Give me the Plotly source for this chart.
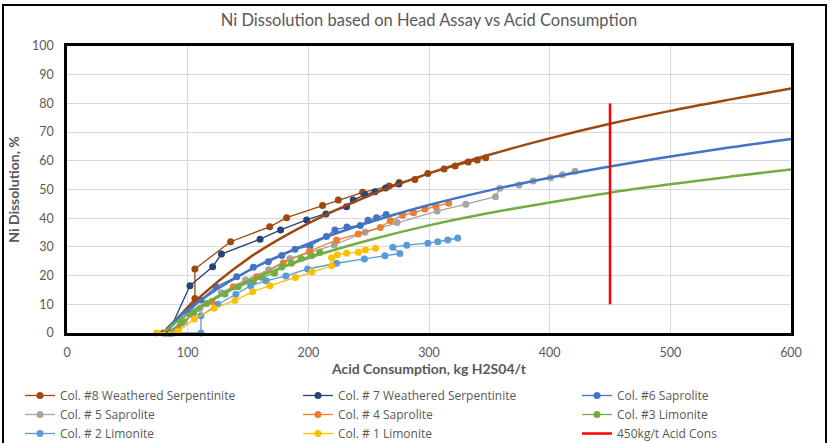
import plotly.graph_objects as go

# Column leach results: acid consumption (kg H2SO4/t) vs Ni dissolution (%)
col8_x = [80, 106, 106, 135.6, 168, 182, 211.8, 224.8, 245, 267, 275.3, 288.3, 299, 312.5, 321.7, 332.5, 340, 347]
col8_y = [0, 12, 22.3, 31.8, 37.0, 40.2, 44.4, 46.3, 49.0, 51.2, 52.4, 53.5, 55.6, 57.1, 58.2, 59.6, 60.3, 61.1]

col7_x = [84, 101.9, 120.7, 128, 160, 177, 198.6, 214.6, 231.7, 237.2, 246.9, 255.2, 264, 275]
col7_y = [0, 16.5, 23.1, 27.5, 32.7, 35.9, 39.4, 41.5, 44.0, 46.3, 48.2, 49.2, 50.5, 51.9]

col6_x = [86, 100, 111, 123.4, 140.6, 154.4, 166.8, 178, 189, 201.3, 215, 222, 232, 243, 249.5, 256.5, 264.5]
col6_y = [0, 7, 11.5, 16.1, 19.6, 22.9, 24.8, 27.0, 29.2, 30.3, 33.6, 35.9, 36.9, 37.5, 39.3, 40.2, 41.3]

col5_x = [86, 97, 110, 128, 148, 167, 184.8, 201, 221.5, 247, 273.5, 306.8, 330.6, 355.1, 358.7, 374.7, 386.3, 400.7, 410.6, 421.1]
col5_y = [0, 4, 8.5, 14, 18.5, 22, 26.0, 28.0, 30.7, 35.1, 38.5, 42.5, 44.9, 47.5, 50.4, 51.6, 53.0, 54.1, 55.1, 56.4]

col4_x = [86, 92, 104, 120, 137.8, 157.1, 179.2, 201, 223.4, 241.4, 259.6, 267.9, 278.1, 287.2, 296.7, 305.7, 316.3]
col4_y = [0, 1.5, 6.5, 11, 16.1, 19.6, 24.4, 28.5, 32.4, 34.5, 36.8, 39.1, 41.0, 41.9, 43.2, 44.2, 45.2]

col3_x = [82, 95, 105, 115.7, 130.9, 141.9, 154.4, 161.3, 172, 178, 186, 194, 202.7, 209.6]
col3_y = [0, 3.5, 7, 10.3, 13.6, 16.1, 17.9, 19.4, 20.8, 23.0, 24.3, 26.0, 26.9, 28.1]

col2_x = [88, 111, 111, 125, 140, 152.2, 165, 181.4, 199.4, 223.4, 246.5, 263.5, 275.9, 270, 281.6, 299.1, 307.3, 315.6, 323.8]
col2_y = [0, 0, 6, 10, 13.5, 16.5, 18.2, 19.9, 22.3, 24.3, 25.8, 26.9, 27.7, 29.9, 30.6, 31.3, 31.8, 32.4, 33.1]

col1_x = [74.3, 92, 105.5, 121.8, 139, 153.8, 168.2, 189.3, 203, 219.3, 219.3, 224.1, 231.7, 241.4, 247.3, 255.7]
col1_y = [0, 0.5, 4.9, 8.6, 11.3, 14.4, 16.5, 19.3, 21.3, 23.4, 26.2, 27.3, 27.8, 28.1, 28.9, 29.5]

# Logarithmic trend curves extended to 600 kg/t
trend_x = [82, 100, 150, 200, 250, 300, 350, 400, 450, 500, 550, 600]
trend_serp_y = [0.2, 8.6, 25.9, 38.2, 47.8, 55.6, 62.1, 67.8, 72.9, 77.4, 81.4, 85.2]
trend_sap_y = [1.3, 8.1, 21.6, 31.1, 38.5, 44.6, 49.7, 54.1, 58.0, 61.5, 64.7, 67.6]
trend_lim_y = [0.8, 6.6, 18.0, 26.1, 32.3, 37.5, 41.8, 45.5, 48.9, 51.8, 54.5, 57.0]

# 450 kg/t acid consumption marker
cons_x = [450, 450]
cons_y = [10, 80]

x_ticks = [0, 100, 200, 300, 400, 500, 600]
y_ticks = list(range(0, 101, 10))

FONT = "Lato, Open Sans, sans-serif"

series = [
    ("Col. #8 Weathered Serpentinite", col8_x, col8_y, "#9E480E", "legend"),
    ("Col. # 7 Weathered Serpentinite", col7_x, col7_y, "#264478", "legend2"),
    ("Col. #6 Saprolite", col6_x, col6_y, "#4472C4", "legend3"),
    ("Col. # 5 Saprolite", col5_x, col5_y, "#A5A5A5", "legend"),
    ("Col. # 4 Saprolite", col4_x, col4_y, "#ED7D31", "legend2"),
    ("Col. #3 Limonite", col3_x, col3_y, "#70AD47", "legend3"),
    ("Col. # 2 Limonite", col2_x, col2_y, "#5B9BD5", "legend"),
    ("Col. # 1 Limonite", col1_x, col1_y, "#FFC000", "legend2"),
]

fig = go.Figure()

for name, xs, ys, color, leg in series:
    fig.add_trace(go.Scatter(
        x=xs, y=ys, name=name, mode="lines+markers",
        line=dict(color=color, width=1.3),
        marker=dict(color=color, size=7),
        cliponaxis=False, legend=leg,
    ))

for ys, color in [(trend_serp_y, "#9E480E"), (trend_sap_y, "#4472C4"), (trend_lim_y, "#70AD47")]:
    fig.add_trace(go.Scatter(
        x=trend_x, y=ys, mode="lines", line=dict(color=color, width=2.5, shape="spline"),
        showlegend=False, hoverinfo="skip",
    ))

fig.add_trace(go.Scatter(
    x=cons_x, y=cons_y, name="450kg/t Acid Cons", mode="lines",
    line=dict(color="#FF0000", width=2.5), legend="legend3",
))

L, R, T, B = 67, 40, 46, 110
W, H = 831, 443
pw, ph = W - L - R, H - T - B

def px_x(p):
    return (p - L) / pw

def px_y(p):
    return (H - B - p) / ph

legend_common = dict(
    orientation="v", yanchor="top", xanchor="left",
    bgcolor="rgba(0,0,0,0)", font=dict(family="Open Sans, Lato, sans-serif", size=12, color="#595959"),
    y=px_y(381),
)

fig.update_layout(
    width=W, height=H,
    margin=dict(l=L, r=R, t=T, b=B, autoexpand=False),
    paper_bgcolor="white", plot_bgcolor="white",
    title=dict(
        text="Ni Dissolution based on Head Assay vs Acid Consumption",
        x=(L + pw / 2) / W, xanchor="center", y=1 - 20 / H, yanchor="middle",
        font=dict(family=FONT, size=16.5, color="#595959"),
    ),
    xaxis=dict(
        range=[0, 600], tickvals=x_ticks, showgrid=True, gridcolor="#D9D9D9", gridwidth=1,
        showline=True, linecolor="black", linewidth=2.5, mirror=True, zeroline=False,
        ticks="", ticklabelstandoff=6, tickfont=dict(family=FONT, size=12.5, color="#595959"),
        title=dict(text="<b>Acid Consumption, kg H2S04/t</b>", standoff=4,
                   font=dict(family=FONT, size=14, color="#595959")),
    ),
    yaxis=dict(
        range=[0, 100], tickvals=y_ticks, showgrid=True, gridcolor="#D9D9D9", gridwidth=1,
        showline=True, linecolor="black", linewidth=2.5, mirror=True, zeroline=False,
        ticks="", ticklabelstandoff=8, tickfont=dict(family=FONT, size=12.5, color="#595959"),
        title=dict(text="<b>Ni Dissolution, %</b>", standoff=10,
                   font=dict(family=FONT, size=14, color="#595959")),
    ),
    legend=dict(x=px_x(20), **legend_common),
    legend2=dict(x=px_x(298), **legend_common),
    legend3=dict(x=px_x(577), **legend_common),
    shapes=[dict(
        type="rect", xref="paper", yref="paper", layer="above",
        x0=px_x(3), x1=px_x(826), y0=px_y(470), y1=px_y(5),
        line=dict(color="black", width=2), fillcolor="rgba(0,0,0,0)",
    )],
)

fig.write_html("out.html")
